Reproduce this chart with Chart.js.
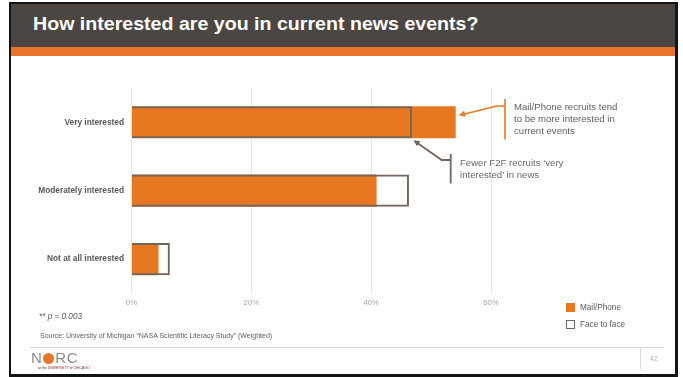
<!DOCTYPE html>
<html>
<head>
<meta charset="utf-8">
<title>How interested are you in current news events?</title>
<script src="https://cdn.jsdelivr.net/npm/chart.js@4.4.1/dist/chart.umd.min.js"></script>
<style>
  html, body { margin: 0; padding: 0; background: #ffffff; }
  body { width: 683px; height: 377px; position: relative; overflow: hidden;
         font-family: "Liberation Sans", Arial, sans-serif; }
  .abs { position: absolute; white-space: nowrap; }
  #frame { left: 9px; top: 2px; width: 669px; height: 375px; box-sizing: border-box;
           border-style: solid; border-color: #141414; border-width: 2px 3px 3px 2px; }
  #header { left: 11px; top: 4px; width: 664px; height: 43px; background: #4b4642; }
  #stripe { left: 11px; top: 47px; width: 664px; height: 9px; background: #e8752a; }
  #title { left: 33px; top: 14px; font-size: 17.5px; line-height: 21px; font-weight: bold;
           color: #ffffff; transform: scaleX(1.12); transform-origin: left center; }
  #chart { position: absolute; left: 0; top: 0; }
  .note { font-size: 9.6px; line-height: 12.4px; }
  #noteMail { left: 514px; top: 100.5px; color: #5f5f5f; }
  #noteF2F { left: 460px; top: 157.3px; color: #6e6a66; line-height: 11.2px; }
  #pval { left: 39px; top: 311.5px; font-size: 8.2px; line-height: 10px; font-style: italic; color: #595959; }
  #source { left: 40px; top: 330.5px; font-size: 7px; line-height: 9px; color: #5f5f5f; }
  #footLine { left: 30px; top: 347px; width: 634px; height: 1px; background: #d9d9d9; }
  #footSep { left: 640px; top: 347px; width: 1px; height: 22px; background: #d9d9d9; }
  #pageNum { left: 650px; top: 354px; font-size: 7px; line-height: 9px; color: #b5b5b5; }
  #logo { left: 31px; top: 350px; font-size: 15px; line-height: 16px; color: #8c8c8c; letter-spacing: 0.5px; }
  #logo .o { display: inline-block; width: 11px; height: 11px; border-radius: 50%;
             background: #e8752a; color: #e8752a; font-size: 9px; line-height: 11px;
             text-align: center; overflow: hidden; vertical-align: -1px; margin: 0 1px; }
  #logoSub { left: 38px; top: 366px; font-size: 7px; line-height: 7px; color: #7a2a2a;
             transform: scale(0.5); transform-origin: left top; }
  .legItem { font-size: 8.2px; line-height: 10px; color: #595959; }
  .swatch { position: absolute; width: 9px; height: 9px; box-sizing: border-box; }
</style>
</head>
<body>
<div class="abs" id="frame"></div>
<div class="abs" id="header"></div>
<div class="abs" id="stripe"></div>
<div class="abs" id="title">How interested are you in current news events?</div>

<canvas id="chart" width="683" height="377"></canvas>

<div class="abs note" id="noteMail">Mail/Phone recruits tend<br>to be more interested in<br>current events</div>
<div class="abs note" id="noteF2F">Fewer F2F recruits ‘very<br>interested’ in news</div>

<div id="legend"></div>

<div class="abs" id="pval">** p = 0.003</div>
<div class="abs" id="source">Source: University of Michigan “NASA Scientific Literacy Study” (Weighted)</div>
<div class="abs" id="footLine"></div>
<div class="abs" id="footSep"></div>
<div class="abs" id="pageNum">42</div>
<div class="abs" id="logo">N<span class="o">O</span>RC</div>
<div class="abs" id="logoSub">at the UNIVERSITY of CHICAGO</div>

<script>
// Survey answers and shares (%) by recruitment mode
const categories = ['Very interested', 'Moderately interested', 'Not at all interested'];
const mailPhone = [54.1, 40.9, 4.5];
const faceToFace = [46.8, 46.3, 6.4];
const tickValues = [0, 20, 40, 60];
const seriesNames = ['Mail/Phone', 'Face to face'];

const ORANGE = '#e87722';
const OUTLINE = '#73665c';
const FONT = '"Liberation Sans", Arial, sans-serif';

// Legend built from the series names and colours
(function buildLegend() {
  const legend = document.getElementById('legend');
  const items = [
    { name: seriesNames[0], top: 303, style: 'background:' + ORANGE + ';' },
    { name: seriesNames[1], top: 320, style: 'background:#fff;border:1.6px solid ' + OUTLINE + ';' }
  ];
  items.forEach(it => {
    const sw = document.createElement('div');
    sw.className = 'swatch';
    sw.style.cssText = 'left:566px;top:' + it.top + 'px;' + it.style;
    legend.appendChild(sw);
    const tx = document.createElement('div');
    tx.className = 'abs legItem';
    tx.style.left = '580px';
    tx.style.top = (it.top - 0.5) + 'px';
    tx.textContent = it.name;
    legend.appendChild(tx);
  });
})();

function drawArrow(ctx, fx, fy, tx, ty, color, size) {
  const ang = Math.atan2(ty - fy, tx - fx);
  ctx.save();
  ctx.fillStyle = color;
  ctx.beginPath();
  ctx.moveTo(tx, ty);
  ctx.lineTo(tx - size * Math.cos(ang - 0.45), ty - size * Math.sin(ang - 0.45));
  ctx.lineTo(tx - size * Math.cos(ang + 0.45), ty - size * Math.sin(ang + 0.45));
  ctx.closePath();
  ctx.fill();
  ctx.restore();
}

// Callout brackets pointing at the ends of the "Very interested" bars
const callouts = {
  id: 'callouts',
  afterDatasetsDraw(chart) {
    const { ctx, scales: { x, y } } = chart;
    const yc = y.getPixelForValue(0);
    const half = 16;

    // Mail/Phone callout
    const mx = x.getPixelForValue(mailPhone[0]);
    const mTip = { x: mx + 3, y: yc - 7 };
    ctx.save();
    ctx.strokeStyle = ORANGE;
    ctx.lineWidth = 1.6;
    ctx.beginPath();
    ctx.moveTo(505, 99); ctx.lineTo(505, 139.5);
    ctx.moveTo(505, 106); ctx.lineTo(497, 106);
    ctx.lineTo(mTip.x + 4, mTip.y - 0.8);
    ctx.stroke();
    drawArrow(ctx, 497, 106, mTip.x, mTip.y, ORANGE, 7);

    // Face to face callout
    const fx = x.getPixelForValue(faceToFace[0]);
    const fTip = { x: fx + 1.5, y: yc + half + 2 };
    ctx.strokeStyle = OUTLINE;
    ctx.lineWidth = 1.8;
    ctx.beginPath();
    ctx.moveTo(450.7, 154); ctx.lineTo(450.7, 183.5);
    ctx.moveTo(450.7, 160); ctx.lineTo(441.7, 160);
    ctx.lineTo(fTip.x + 3.5, fTip.y + 2.5);
    ctx.stroke();
    drawArrow(ctx, 441.7, 160, fTip.x, fTip.y, OUTLINE, 7);
    ctx.restore();
  }
};

new Chart(document.getElementById('chart'), {
  type: 'bar',
  data: {
    labels: categories,
    datasets: [
      {
        label: seriesNames[1],
        data: faceToFace,
        backgroundColor: 'rgba(0,0,0,0)',
        borderColor: OUTLINE,
        borderWidth: 2,
        grouped: false,
        order: 0
      },
      {
        label: seriesNames[0],
        data: mailPhone,
        backgroundColor: ORANGE,
        borderWidth: 0,
        grouped: false,
        order: 1
      }
    ]
  },
  options: {
    indexAxis: 'y',
    responsive: false,
    animation: false,
    devicePixelRatio: 1,
    barPercentage: 0.47,
    categoryPercentage: 1,
    layout: { padding: { left: 10, top: 88, right: 132, bottom: 68.7 } },
    plugins: { legend: { display: false }, tooltip: { enabled: false }, title: { display: false } },
    scales: {
      x: {
        min: 0,
        max: 70,
        afterBuildTicks(scale) { scale.ticks = tickValues.map(v => ({ value: v })); },
        afterFit(scale) { scale.height = 15; },
        grid: { color: '#e9e9e9', lineWidth: 1, drawTicks: false },
        border: { display: false },
        ticks: {
          padding: 5,
          color: '#a8a8a8',
          font: { family: FONT, size: 7.8 },
          callback: v => v + '%'
        }
      },
      y: {
        afterFit(scale) { scale.width = 121.5; },
        grid: { display: false, drawTicks: false },
        border: { display: false },
        ticks: {
          padding: 7.5,
          color: '#595959',
          font: { family: FONT, size: 8.3, weight: 'bold' }
        }
      }
    }
  },
  plugins: [callouts]
});
</script>
</body>
</html>
